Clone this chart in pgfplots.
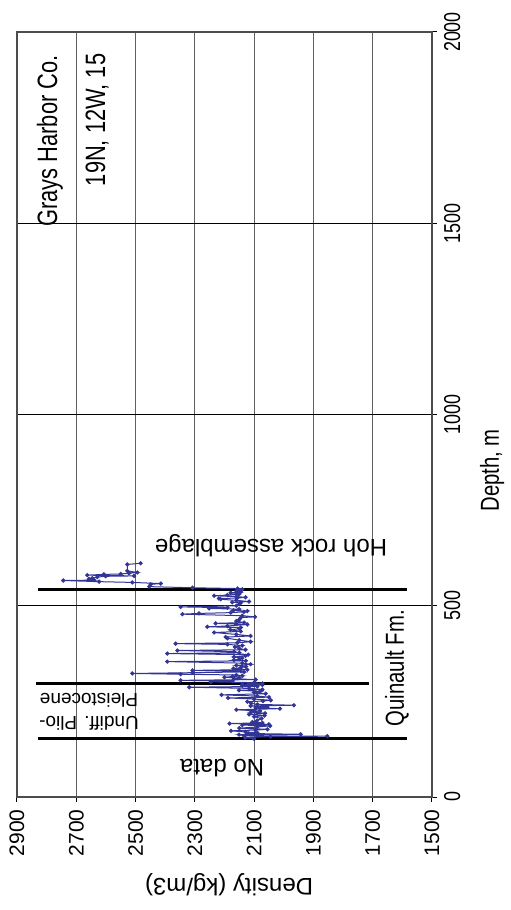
\documentclass[border=0pt]{standalone}
\usepackage{fontspec}
\setmainfont{Liberation Sans}
\newfontfamily\narrowfont[FakeStretch=0.78]{Liberation Sans}
\usepackage{pgfplots}
\usepackage{pgfplotstable}
\pgfplotsset{compat=1.18}
\definecolor{dat}{RGB}{50,52,150}
\pgfplotstableread{
d D
2100 152
2130 155
2045 158
1853 159
2134 160
2151 163
1943 164
2120 166
2089 168
2129 170
2178 173
2095 175
2055 177
2150 180
2090 183
2046 186
2140 188
2050 190
2183 192
2072 194
2106 196
2090 200
2075 205
2100 210
2065 213
2117 216
2063 219
2110 222
2080 225
2160 228
2013 231
2095 233
2055 235
2112 238
1966 240
2089 242
2110 245
2123 249
2070 251
2044 253
2100 256
2188 259
2050 261
2090 264
2210 267
2061 270
2100 273
2080 276
2151 279
2072 281
2117 284
2319 287
2089 289
2140 291
2072 293
2140 295
2072 297
2100 299
2246 301
2173 303
2348 305
2095 307
2168 309
2151 311
2200 313
2173 315
2140 317
2160 319
2348 321
2511 323
2308 325
2134 327
2145 329
2308 331
2123 333
2170 336
2145 338
2128 341
2160 344
2112 347
2140 350
2393 354
2128 356
2168 358
2151 360
2140 363
2168 366
2129 369
2120 372
2393 375
2150 377
2168 380
2359 383
2129 385
2150 388
2165 392
2140 396
2190 399
2365 401
2157 403
2112 406
2150 410
2190 415
2196 418
2112 421
2160 425
2235 430
2145 433
2180 437
2150 440
2145 443
2258 445
2190 447
2123 451
2230 454
2134 456
2160 460
2150 464
2145 469
2097 471
2140 474
2342 478
2286 480
2179 482
2134 484
2123 486
2170 488
2151 491
2252 493
2190 495
2348 497
2160 500
2150 504
2145 508
2174 509
2117 511
2160 514
2213 517
2219 519
2157 520
2129 522
2160 524
2235 526
2190 528
2151 530
2157 532
2179 534
2145 536
2160 539
2145 541
2140 543
2156 545
2308 547
2454 550
2449 556
2415 558
2511 561
2623 563
2744 566
2640 567
2657 570
2646 572
2629 575
2601 577
2505 578
2663 580
2607 582
2550 583
2522 585
2494 587
2528 591
2528 608
2483 611
}\density
\begin{document}
\begin{tikzpicture}
\useasboundingbox (-8.5pt,-56.5pt) rectangle (246.5pt,398.5pt);
\begin{axis}[
 scale only axis, width=207.5pt, height=382.5pt,
 xmin=1500, xmax=2900, ymin=0, ymax=2000,
 x dir=reverse,
 xtick={1500,1700,...,2900}, ytick={0,500,...,2000},
 xtick pos=left, ytick pos=right,
 tick align=outside, major tick length=2.5pt,
 xmajorgrids, ymajorgrids,
 major x grid style={gray!75!black, line width=0.5pt},
 major y grid style={black, line width=0.5pt},
 axis line style={gray!60!black, line width=0.8pt},
 tick style={black, line width=0.5pt},
 /pgf/number format/assume math mode=true,
 /pgf/number format/1000 sep={},
 xticklabel style={rotate=90, anchor=east, inner xsep=3.5pt, font=\fontsize{10.5}{12}\selectfont},
 yticklabel style={rotate=90, anchor=north, font=\narrowfont\fontsize{11.5}{12}\selectfont},
 yticklabel pos=right,
 clip=false,
]
\addplot[black, line width=1.5pt, forget plot] coordinates {(2828,152) (1584,152)};
\addplot[black, line width=1.5pt, forget plot] coordinates {(2836,297) (1712,297)};
\addplot[black, line width=1.5pt, forget plot] coordinates {(2828,542) (1584,542)};
\addplot[dat, line width=0.5pt, mark=*, mark size=0.8pt, mark options={fill=dat, draw=dat}] table[x=d, y=D] {\density};
\node[rotate=180, font=\fontsize{12}{14}\selectfont] at (axis cs:2208,76) {No data};
\node[rotate=180, align=center, font=\fontsize{9.5}{11.5}\selectfont] at (axis cs:2657,222) {Undiff. Plio-\\Pleistocene};
\node[rotate=180, font=\fontsize{12}{14}\selectfont] at (axis cs:2043,656) {Hoh rock assemblage};
\node[rotate=90, font=\narrowfont\fontsize{13}{15}\selectfont] at (axis cs:1618,337) {Quinault Fm.};
\node[rotate=90, font=\narrowfont\fontsize{14}{16}\selectfont] at (axis cs:2789,1715) {Grays Harbor Co.};
\node[rotate=90, font=\narrowfont\fontsize{14}{16}\selectfont] at (axis cs:2630,1770) {19N, 12W, 15};
\node[rotate=180, font=\fontsize{12}{14}\selectfont] at (axis description cs:0.511,-0.114) {Density (kg/m3)};
\node[rotate=90, font=\narrowfont\fontsize{13}{15}\selectfont] at (axis description cs:1.145,0.427) {Depth, m};
\end{axis}
\end{tikzpicture}
\end{document}
